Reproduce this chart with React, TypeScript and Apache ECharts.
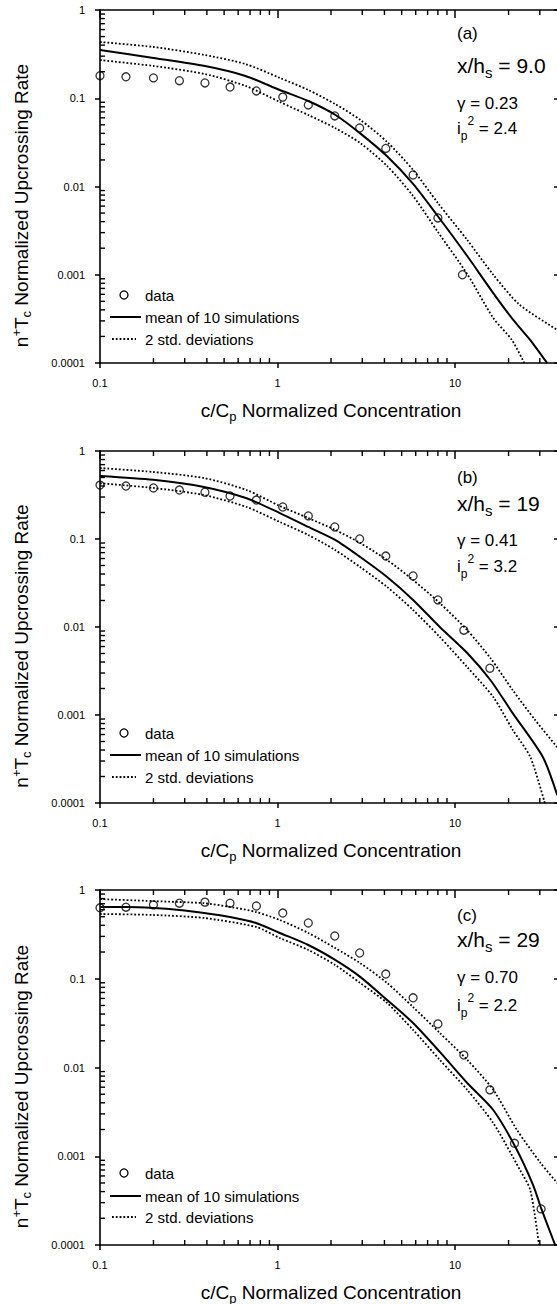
import React, { useEffect, useRef } from "react";
import * as echarts from "echarts";

const FF = "'Liberation Sans', Arial, Helvetica, sans-serif";

// ---------- Panel (a): x/hs = 9.0 ----------
const aDataX = [0.1, 0.14, 0.2, 0.28, 0.39, 0.54, 0.76, 1.07, 1.49, 2.1, 2.9, 4.07, 5.8, 8.0, 11];
const aDataY = [0.18, 0.175, 0.17, 0.158, 0.149, 0.134, 0.121, 0.103, 0.084, 0.063, 0.046, 0.027, 0.0135, 0.0044, 0.001];
const aMeanX = [0.1, 0.2, 0.39, 0.66, 1.03, 1.49, 2.11, 2.92, 4.14, 5.8, 8.0, 11.7, 16.4, 21.2, 26.5, 33];
const aMeanY = [0.352, 0.286, 0.232, 0.179, 0.124, 0.093, 0.065, 0.04, 0.022, 0.0107, 0.0046, 0.00163, 0.00062, 0.00031, 0.000182, 0.0001];
const aUpX = [0.1, 0.2, 0.39, 0.66, 1.03, 1.49, 2.11, 2.92, 4.14, 5.8, 8.0, 11.7, 16.4, 23, 37.6, 40];
const aUpY = [0.434, 0.381, 0.309, 0.244, 0.17, 0.124, 0.086, 0.057, 0.032, 0.0154, 0.0065, 0.00248, 0.001, 0.00046, 0.000237, 0.00022];
const aLoX = [0.1, 0.2, 0.39, 0.66, 1.03, 1.49, 2.11, 2.92, 4.14, 5.8, 8.0, 11.7, 16.4, 20.9, 24.5];
const aLoY = [0.271, 0.232, 0.188, 0.138, 0.0907, 0.0646, 0.046, 0.0311, 0.0171, 0.0078, 0.00305, 0.00102, 0.000324, 0.000182, 0.0001];

// ---------- Panel (b): x/hs = 19 ----------
const bDataX = [0.1, 0.14, 0.2, 0.28, 0.39, 0.54, 0.76, 1.07, 1.49, 2.1, 2.9, 4.07, 5.8, 8.0, 11.2, 15.7];
const bDataY = [0.41, 0.4, 0.38, 0.36, 0.34, 0.308, 0.277, 0.231, 0.183, 0.137, 0.1, 0.064, 0.038, 0.0203, 0.0092, 0.0034];
const bMeanX = [0.1, 0.2, 0.385, 0.67, 1.03, 1.49, 2.11, 2.92, 4.14, 5.8, 8.2, 11.7, 15.8, 21.1, 31.2, 37.6];
const bMeanY = [0.52, 0.47, 0.39, 0.29, 0.197, 0.137, 0.0975, 0.0624, 0.037, 0.0203, 0.01, 0.00507, 0.0025, 0.00105, 0.000333, 0.000123];
const bUpX = [0.1, 0.2, 0.385, 0.67, 1.03, 1.49, 2.11, 2.92, 4.14, 5.8, 8.2, 11.7, 15.8, 21.1, 28.2, 37.6];
const bUpY = [0.641, 0.577, 0.493, 0.36, 0.237, 0.173, 0.127, 0.09, 0.0577, 0.0342, 0.0187, 0.0092, 0.00444, 0.00192, 0.00088, 0.00043];
const bLoX = [0.1, 0.2, 0.385, 0.67, 1.03, 1.49, 2.11, 2.92, 4.14, 5.8, 8.2, 11.7, 16.4, 21.1, 26.5, 32];
const bLoY = [0.43, 0.38, 0.316, 0.231, 0.156, 0.111, 0.075, 0.048, 0.0285, 0.0156, 0.0077, 0.0035, 0.0016, 0.00068, 0.000333, 0.0001];

// ---------- Panel (c): x/hs = 29 ----------
const cDataX = [0.1, 0.14, 0.2, 0.28, 0.39, 0.54, 0.76, 1.07, 1.49, 2.1, 2.9, 4.07, 5.8, 8.0, 11.2, 15.7, 21.6, 30.5];
const cDataY = [0.63, 0.64, 0.68, 0.71, 0.73, 0.71, 0.66, 0.55, 0.425, 0.303, 0.195, 0.113, 0.061, 0.031, 0.0138, 0.0056, 0.0014, 0.000255];
const cMeanX = [0.1, 0.14, 0.2, 0.28, 0.385, 0.54, 0.757, 1.03, 1.49, 2.11, 2.92, 4.14, 5.8, 8.2, 11.7, 16.4, 22.0, 27.5, 30.5, 36.6];
const cMeanY = [0.643, 0.643, 0.627, 0.595, 0.55, 0.496, 0.425, 0.328, 0.24, 0.163, 0.105, 0.0576, 0.0317, 0.015, 0.00669, 0.00332, 0.00124, 0.000474, 0.000261, 0.0001];
const cUpX = [0.1, 0.2, 0.385, 0.54, 0.757, 1.03, 1.49, 2.11, 2.92, 4.14, 5.8, 8.2, 11.7, 16.4, 22.3, 30.3, 37.6];
const cUpY = [0.79, 0.75, 0.71, 0.645, 0.565, 0.459, 0.328, 0.222, 0.15, 0.0896, 0.048, 0.0245, 0.0122, 0.0056, 0.00198, 0.00084, 0.0005];
const cLoX = [0.1, 0.2, 0.385, 0.757, 1.03, 1.49, 2.11, 2.92, 4.14, 5.8, 8.2, 11.7, 16.4, 23.2, 26.5, 29.7];
const cLoY = [0.537, 0.523, 0.484, 0.383, 0.288, 0.211, 0.143, 0.0896, 0.0533, 0.0265, 0.0122, 0.0056, 0.00237, 0.0007, 0.000417, 0.0001];

// ---------- axis ticks ----------
const xMin = 0.1;
const xMax = 40;
const yMin = 0.0001;
const yMax = 1;
const xMinorTicks = [0.2, 0.3, 0.4, 0.5, 0.6, 0.7, 0.8, 0.9, 2, 3, 4, 5, 6, 7, 8, 9, 20, 30];
const yMinorTicks = [
  0.0002, 0.0003, 0.0004, 0.0005, 0.0006, 0.0007, 0.0008, 0.0009,
  0.002, 0.003, 0.004, 0.005, 0.006, 0.007, 0.008, 0.009,
  0.02, 0.03, 0.04, 0.05, 0.06, 0.07, 0.08, 0.09,
  0.2, 0.3, 0.4, 0.5, 0.6, 0.7, 0.8, 0.9,
];

// ---------- texts ----------
const panelTags = ["(a)", "(b)", "(c)"];
const xhValues = ["9.0", "19", "29"];
const gammaValues = ["0.23", "0.41", "0.70"];
const ip2Values = ["2.4", "3.2", "2.2"];
const legendNames = ["data", "mean of 10 simulations", "2 std. deviations"];

const panelData = [
  { data: [aDataX, aDataY], mean: [aMeanX, aMeanY], up: [aUpX, aUpY], lo: [aLoX, aLoY] },
  { data: [bDataX, bDataY], mean: [bMeanX, bMeanY], up: [bUpX, bUpY], lo: [bLoX, bLoY] },
  { data: [cDataX, cDataY], mean: [cMeanX, cMeanY], up: [cUpX, cUpY], lo: [cLoX, cLoY] },
];

// ---------- layout (pixels) ----------
const layout = [
  { top: 10, height: 353, ann: [33, 65, 103, 128], leg: [295, 317, 339] },
  { top: 451, height: 352, ann: [477, 503, 540, 566], leg: [733, 755, 777] },
  { top: 890, height: 355, ann: [915, 939, 977, 1005], leg: [1173, 1196, 1217] },
];
const GRID_LEFT = 100;
const GRID_WIDTH = 462;

const zip = (xs: number[], ys: number[]) => xs.map((x, k) => [x, ys[k]]);

const fmtPow = (v: number) => {
  const l = Math.log10(v);
  const e = Math.round(l);
  if (Math.abs(l - e) > 1e-6) return "";
  return e < 0 ? Math.pow(10, e).toFixed(-e) : String(Math.round(Math.pow(10, e)));
};

const R = (size: number, padding?: number[]) => {
  const s: any = { fontSize: size, fontFamily: FF, fill: "#000" };
  if (padding) s.padding = padding;
  return s;
};

// minor ticks are drawn as small rect symbols placed through the axes' own scales
function tickSeries(xb: number, yl: number, data: number[][], size: number[], offset: number[]) {
  return {
    type: "scatter", xAxisIndex: xb, yAxisIndex: yl, silent: true, clip: false, z: 6,
    data, symbol: "rect", symbolSize: size, symbolOffset: offset,
    itemStyle: { color: "#000", borderWidth: 0, opacity: 1 },
  };
}

function buildOption() {
  const grid: any[] = [];
  const xAxis: any[] = [];
  const yAxis: any[] = [];
  const series: any[] = [];
  const graphic: any[] = [];

  const axisLine = { show: true, lineStyle: { color: "#000", width: 1.6 } };
  const tickStyle = { color: "#000", width: 1.5 };

  layout.forEach((L, i) => {
    grid.push({ left: GRID_LEFT, top: L.top, width: GRID_WIDTH, height: L.height, containLabel: false, outerBoundsMode: "none" });
    const xb = xAxis.length;
    xAxis.push({
      gridIndex: i, type: "log", logBase: 10, min: xMin, max: xMax, position: "bottom",
      axisLine, splitLine: { show: false },
      axisTick: { show: true, inside: false, length: 5, lineStyle: tickStyle },
      axisLabel: { show: true, margin: 14, fontSize: 11, fontFamily: FF, color: "#000", formatter: fmtPow, showMaxLabel: false },
    });
    xAxis.push({
      gridIndex: i, type: "log", logBase: 10, min: xMin, max: xMax, position: "top",
      axisLine, splitLine: { show: false },
      axisTick: { show: true, inside: true, length: 8, lineStyle: tickStyle },
      axisLabel: { show: false },
    });
    const yl = yAxis.length;
    yAxis.push({
      gridIndex: i, type: "log", logBase: 10, min: yMin, max: yMax, position: "left",
      axisLine, splitLine: { show: false },
      axisTick: { show: true, inside: false, length: 5, lineStyle: tickStyle },
      axisLabel: { show: true, margin: 15, fontSize: 11, fontFamily: FF, color: "#000", formatter: fmtPow },
    });
    yAxis.push({
      gridIndex: i, type: "log", logBase: 10, min: yMin, max: yMax, position: "right",
      axisLine, splitLine: { show: false },
      axisTick: { show: true, inside: true, length: 8, lineStyle: tickStyle },
      axisLabel: { show: false },
    });

    const P = panelData[i];
    series.push({
      type: "line", name: legendNames[1], xAxisIndex: xb, yAxisIndex: yl,
      data: zip(P.mean[0], P.mean[1]), symbol: "none", smooth: 0.25, silent: true, z: 3,
      lineStyle: { color: "#000", width: 2 },
    });
    series.push({
      type: "line", name: legendNames[2], xAxisIndex: xb, yAxisIndex: yl,
      data: zip(P.up[0], P.up[1]), symbol: "none", smooth: 0.25, silent: true, z: 3,
      lineStyle: { color: "#000", width: 1.8, type: [1.8, 2] },
    });
    series.push({
      type: "line", name: legendNames[2] + " (lower)", xAxisIndex: xb, yAxisIndex: yl,
      data: zip(P.lo[0], P.lo[1]), symbol: "none", smooth: 0.25, silent: true, z: 3,
      lineStyle: { color: "#000", width: 1.8, type: [1.8, 2] },
    });
    series.push({
      type: "scatter", name: legendNames[0], xAxisIndex: xb, yAxisIndex: yl,
      data: zip(P.data[0], P.data[1]), symbol: "circle", symbolSize: 8, silent: true, z: 4,
      itemStyle: { color: "rgba(0,0,0,0)", borderColor: "#000", borderWidth: 1.3 },
    });
    series.push(tickSeries(xb, yl, xMinorTicks.map((v) => [v, yMin]), [1.4, 5], [0, -2.5]));
    series.push(tickSeries(xb, yl, xMinorTicks.map((v) => [v, yMax]), [1.4, 5], [0, 2.5]));
    series.push(tickSeries(xb, yl, yMinorTicks.map((v) => [xMin, v]), [5, 1.4], [2.5, 0]));

    // ---- titles ----
    const cy = L.top + L.height / 2 + 19;
    graphic.push({
      type: "text", x: 21, y: cy, rotation: Math.PI / 2, silent: true,
      style: {
        text: "{t|n}{sup|+}{t|T}{sub|c}{t| Normalized Upcrossing Rate}",
        rich: { t: R(19), sup: R(13, [0, 0, 10, 0]), sub: R(13, [10, 0, 0, 0]) },
        fontSize: 19, fontFamily: FF, fill: "#000", align: "center", verticalAlign: "middle",
      },
    });
    graphic.push({
      type: "text", x: GRID_LEFT + GRID_WIDTH / 2, y: L.top + L.height + 47, silent: true,
      style: {
        text: "{t|c/C}{sub|p}{t| Normalized Concentration}",
        rich: { t: R(19), sub: R(13, [12, 0, 0, 0]) },
        fontSize: 19, fontFamily: FF, fill: "#000", align: "center", verticalAlign: "middle",
      },
    });

    // ---- annotations ----
    const ax = 457;
    graphic.push({ type: "text", x: ax, y: L.ann[0], silent: true,
      style: { text: panelTags[i], fontSize: 17, fontFamily: FF, fill: "#000", align: "left", verticalAlign: "middle" } });
    graphic.push({ type: "text", x: ax, y: L.ann[1], silent: true,
      style: { text: "{t|x/h}{sub|s}{t| = " + xhValues[i] + "}", rich: { t: R(21), sub: R(15, [14, 0, 0, 0]) },
        fontSize: 21, fontFamily: FF, fill: "#000", align: "left", verticalAlign: "middle" } });
    graphic.push({ type: "text", x: ax, y: L.ann[2], silent: true,
      style: { text: "γ = " + gammaValues[i], fontSize: 17, fontFamily: FF, fill: "#000", align: "left", verticalAlign: "middle" } });
    graphic.push({ type: "text", x: ax, y: L.ann[3], silent: true,
      style: { text: "{t|i}{sub|p}{sup|2}{t| = " + ip2Values[i] + "}",
        rich: { t: R(17), sub: R(12, [16, 0, 0, 0]), sup: R(12, [0, 0, 14, 0]) },
        fontSize: 17, fontFamily: FF, fill: "#000", align: "left", verticalAlign: "middle" } });

    // ---- legend ----
    const [y0, y1, y2] = L.leg;
    graphic.push({ type: "circle", silent: true, shape: { cx: 124, cy: y0, r: 4 }, style: { fill: "none", stroke: "#000", lineWidth: 1.3 } });
    graphic.push({ type: "line", silent: true, shape: { x1: 110, y1: y1, x2: 141, y2: y1 }, style: { stroke: "#000", lineWidth: 2 } });
    graphic.push({ type: "line", silent: true, shape: { x1: 112, y1: y2, x2: 136, y2: y2 }, style: { stroke: "#000", lineWidth: 1.8, lineDash: [1.8, 2] } });
    [y0, y1, y2].forEach((yy, k) => {
      graphic.push({ type: "text", x: 145, y: yy, silent: true,
        style: { text: legendNames[k], fontSize: 15, fontFamily: FF, fill: "#000", align: "left", verticalAlign: "middle" } });
    });
  });

  return { animation: false, backgroundColor: "#fff", textStyle: { fontFamily: FF }, grid, xAxis, yAxis, series, graphic };
}

export default function App() {
  const ref = useRef<HTMLDivElement>(null);
  useEffect(() => {
    if (!ref.current) return;
    const chart = echarts.init(ref.current, null, { renderer: "svg" });
    chart.setOption(buildOption() as any);
    return () => chart.dispose();
  }, []);
  return <div ref={ref} style={{ position: "fixed", left: 0, top: 0, width: 557, height: 1304, background: "#fff" }} />;
}
